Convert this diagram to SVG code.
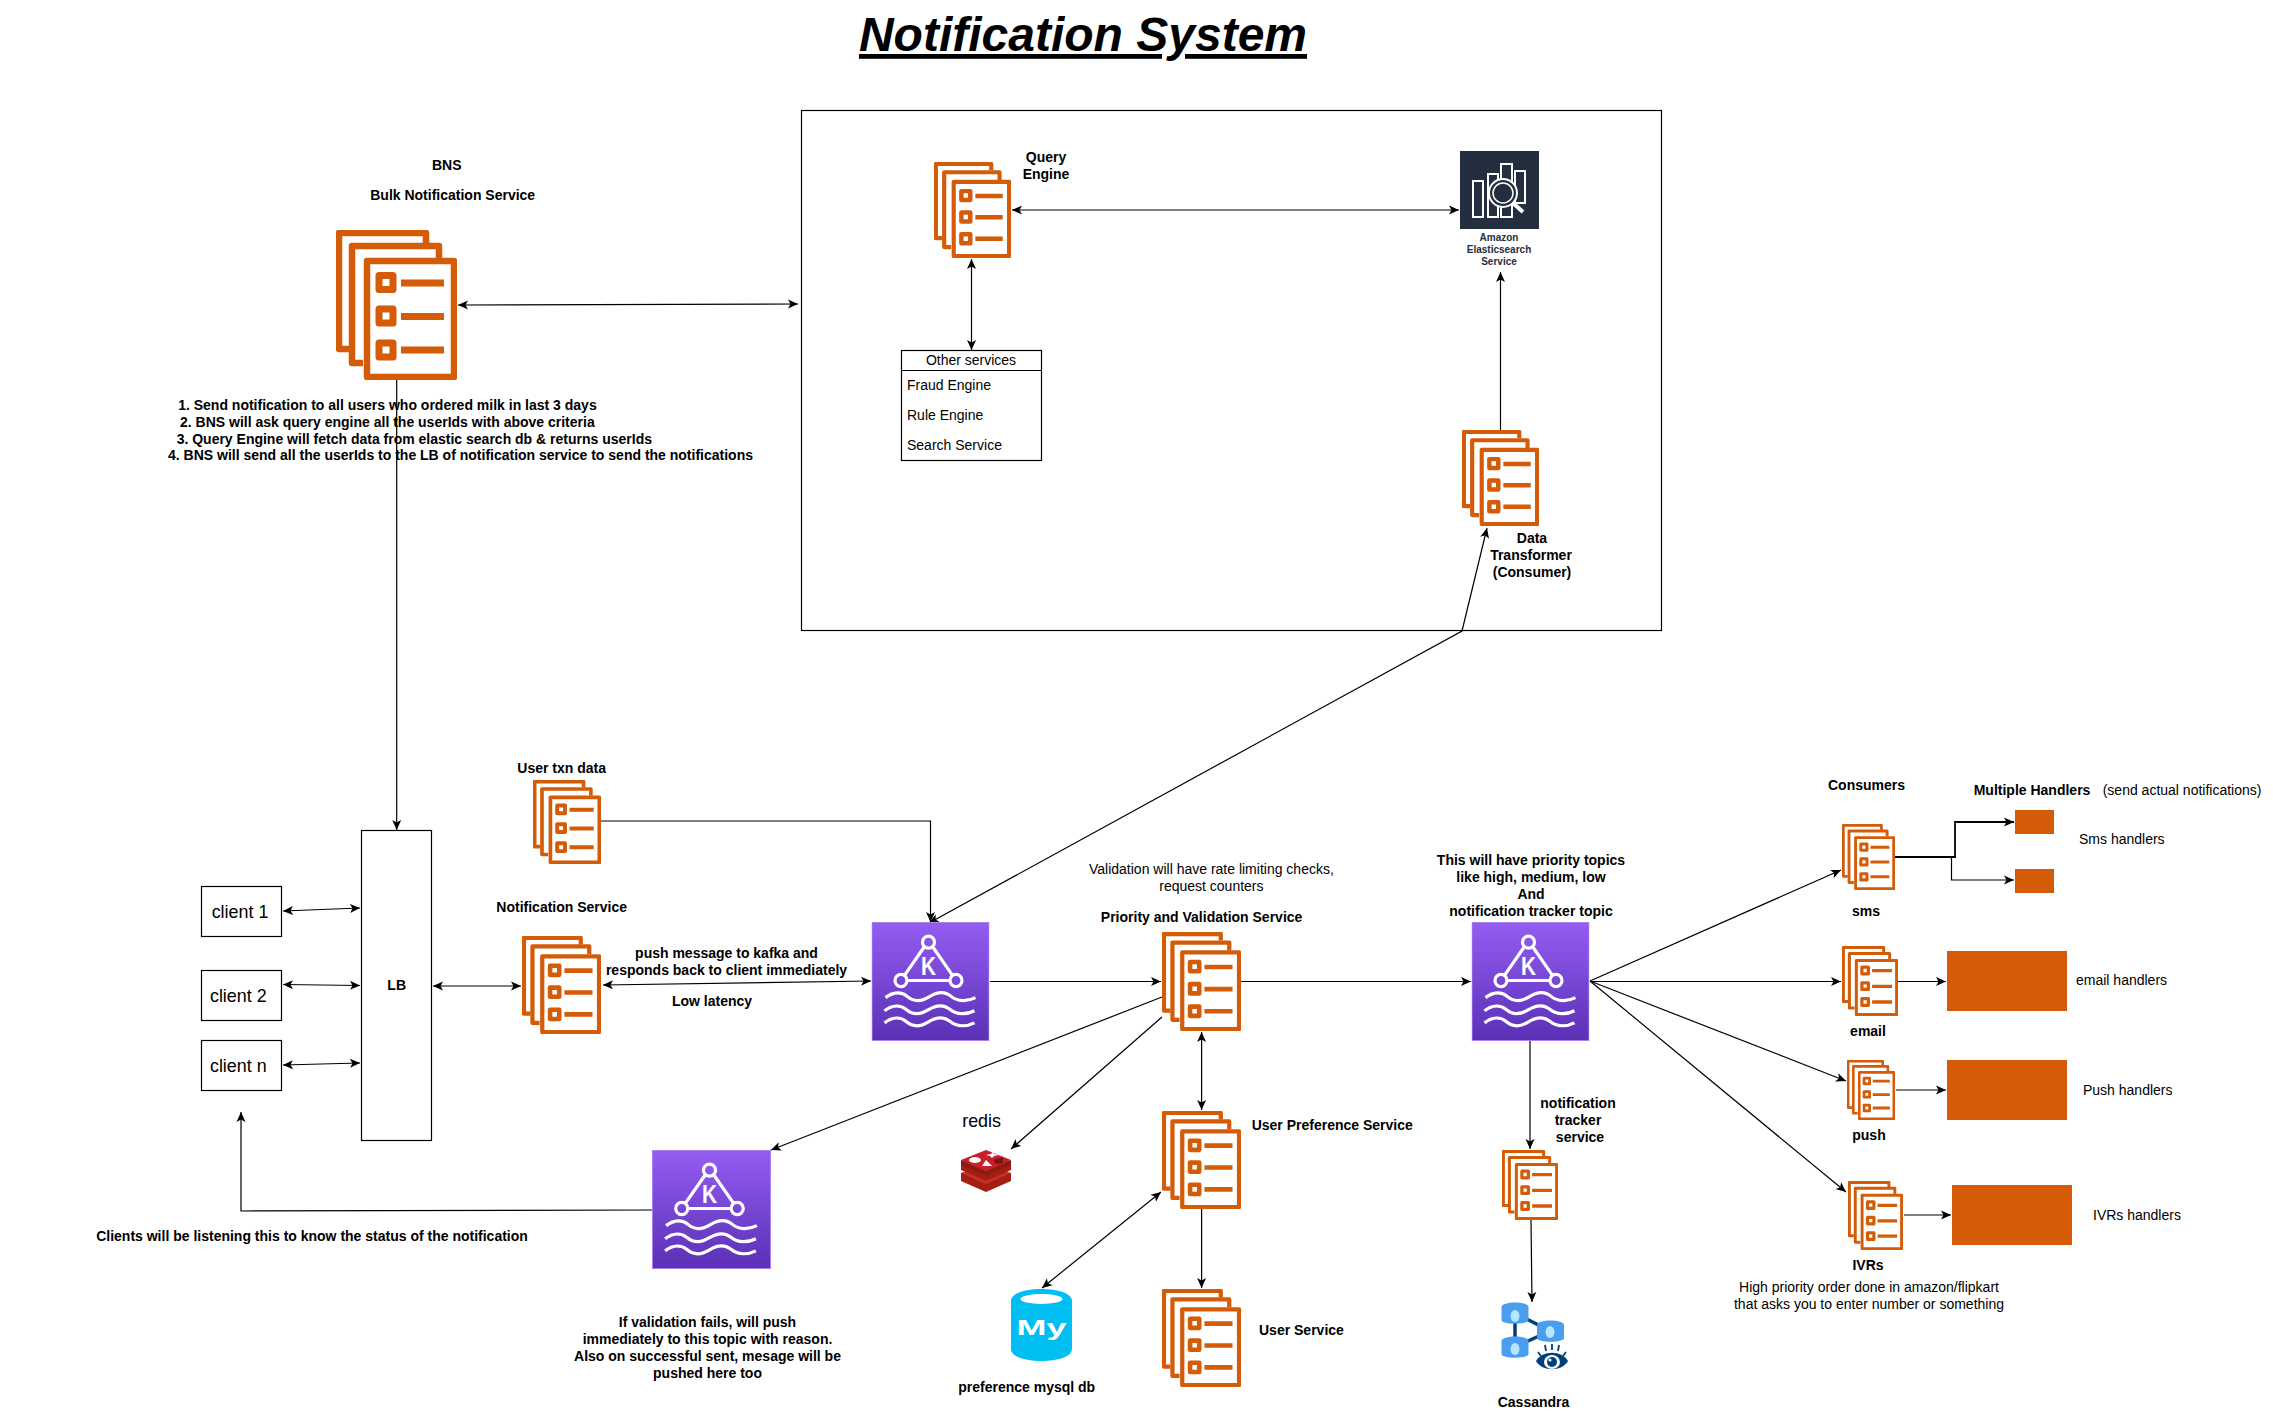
<svg xmlns="http://www.w3.org/2000/svg" width="2273" height="1418" viewBox="0 0 2273 1418">
<style>
text{font-family:"Liberation Sans",Arial,sans-serif;font-size:14px;fill:#000}
.b{font-weight:bold}
.m{text-anchor:middle}
.e{text-anchor:end}
.big{font-size:17.9px}
.box{fill:#fff;stroke:#000;stroke-width:1.2}
.h{fill:#D45B07}
.c{fill:none;stroke:#000;stroke-width:1.2}
.a{marker-end:url(#ah)}
.d{marker-end:url(#ah);marker-start:url(#ah)}
</style>
<defs>
<marker id="ah" viewBox="0 0 10 10" refX="10" refY="5" markerWidth="10" markerHeight="10" markerUnits="userSpaceOnUse" orient="auto-start-reverse"><path d="M10,5 L0,0.5 L2.5,5 L0,9.5 Z" fill="#000"/></marker>
<linearGradient id="kg" x1="0" y1="0" x2="0" y2="1"><stop offset="0" stop-color="#945DF2"/><stop offset="1" stop-color="#5A30B5"/></linearGradient>
<symbol id="svc" viewBox="0 0 121 150" preserveAspectRatio="none">
<g fill="none" stroke="#D45B07" stroke-width="6.5" stroke-linejoin="round">
<path d="M13,119 H3 V3 H90 V13"/>
<path d="M27,133 H16 V16 H103 V28"/>
<rect x="31" y="31" width="87" height="116"/>
<rect x="43" y="45.5" width="14" height="14" stroke-width="7"/>
<rect x="43" y="79" width="14" height="14" stroke-width="7"/>
<rect x="43" y="113" width="14" height="14" stroke-width="7"/>
<path d="M65,53 H108 M65,86.500 H108 M65,120 H108" stroke-width="7"/>
</g>
</symbol>
<symbol id="kafka" viewBox="0 0 118 118" preserveAspectRatio="none">
<rect x="0.500" y="0.500" width="117" height="117" fill="url(#kg)" stroke="#A982F0"/>
<g fill="none" stroke="#fff" stroke-width="3.200">
<path d="M52.500,25 L33,53 M61.500,25 L81,53 M36,58 H78"/>
<circle cx="57" cy="20" r="6"/><circle cx="29.500" cy="58" r="6"/><circle cx="84.500" cy="58" r="6"/>
<path d="M14,75 C22,69 30,69 36,74 C42,79 50,79 58,74 C66,69 74,69 80,74 C86,79 96,79 104,75"/>
<path d="M13,88 C21,82 29,82 35,87 C41,92 49,92 57,87 C65,82 73,82 79,87 C85,92 95,92 103,88"/>
<path d="M13,100 C21,94 29,94 35,99 C41,104 49,104 57,99 C65,94 73,94 79,99 C85,104 95,104 103,100"/>
</g>
<text x="57" y="53" class="m b" style="font-size:25px;fill:#fff" textLength="15" lengthAdjust="spacingAndGlyphs">K</text>
</symbol>
</defs>
<rect width="2273" height="1418" fill="#fff"/>

<g id="title"><text x="1083" y="51" class="m b" style="font-size:48px;font-style:italic;text-decoration:underline">Notification System</text></g>

<g id="boundary"><rect x="801.500" y="110.500" width="860" height="520" class="box"/></g>

<g id="connectors">
<path class="c d" d="M458,305 L798,304"/>
<path class="c d" d="M1012,210 H1459"/>
<path class="c d" d="M971.500,259 V350"/>
<path class="c a" d="M1500.500,431 V272"/>
<path class="c d" d="M929,923 L1462,631 L1487,528"/>
<path class="c a" d="M396.700,380 V830"/>
<path class="c d" d="M283,911 L360,908"/>
<path class="c d" d="M283,984.500 L360,985.500"/>
<path class="c d" d="M283,1065 L360,1063"/>
<path class="c d" d="M433,986 H521"/>
<path class="c a" d="M601,821 H930.500 V922"/>
<path class="c d" d="M603,985 L871,981"/>
<path class="c a" d="M990,981.500 H1161"/>
<path class="c a" d="M1241,981.500 H1471"/>
<path class="c a" d="M1162,997 L771,1150"/>
<path class="c a" d="M1162,1017 L1011,1149"/>
<path class="c d" d="M1201.600,1032 V1110"/>
<path class="c a" d="M1201.600,1209 V1288"/>
<path class="c d" d="M1161,1192 L1042,1288"/>
<path class="c a" d="M652,1210 L241,1211 V1112"/>
<path class="c a" d="M1590,981 L1841,870"/>
<path class="c a" d="M1590,981.500 H1841"/>
<path class="c a" d="M1590,981 L1846,1081"/>
<path class="c a" d="M1590,981 L1846,1192"/>
<path class="c a" d="M1530,1041 V1149"/>
<path class="c a" d="M1531,1220 L1532,1302"/>
<path class="c a" d="M1895,857 H1955 V822 H2014" style="stroke-width:1.800"/>
<path class="c a" d="M1895,857 H1951.500 V880 H2014"/>
<path class="c a" d="M1898,981.500 H1946"/>
<path class="c a" d="M1896,1090 H1946"/>
<path class="c a" d="M1904,1215 H1951"/>
</g>

<g id="bns"><use href="#svc" x="336" y="230" width="121" height="150"/>
<text x="446.700" y="170" class="m b">BNS</text><text x="452.700" y="200" class="m b">Bulk Notification Service</text></g>
<g id="bns-notes" class="b">
<text x="596.700" y="410" class="e b">1. Send notification to all users who ordered milk in last 3 days</text>
<text x="594.700" y="427" class="e b">2. BNS will ask query engine all the userIds with above criteria</text>
<text x="652" y="444" class="e b">3. Query Engine will fetch data from elastic search db &amp; returns userIds</text>
<text x="753" y="460" class="e b">4. BNS will send all the userIds to the LB of notification service to send the notifications</text>
</g>

<g id="query-engine"><use href="#svc" x="934" y="162" width="77" height="96"/>
<text x="1046" y="162" class="m b">Query</text><text x="1046" y="179" class="m b">Engine</text></g>

<g id="elasticsearch">
<rect x="1460" y="151" width="79" height="78" fill="#232F3E"/>
<g fill="none" stroke="#fff" stroke-width="2" transform="translate(1460,151)">
<rect x="13" y="30" width="10" height="36"/>
<rect x="28" y="23" width="10" height="43"/>
<rect x="41" y="13" width="11" height="53"/>
<path d="M55,20 H65 V52 H55 Z"/>
<circle cx="43" cy="42" r="14" fill="#232F3E"/><circle cx="43" cy="42" r="10" stroke-width="1.500"/>
<path d="M53,52 L63,61" stroke-width="4"/>
</g>
<text x="1499" y="241" class="m b" style="font-size:10px;fill:#232F3E">Amazon</text><text x="1499" y="253" class="m b" style="font-size:10px;fill:#232F3E">Elasticsearch</text><text x="1499" y="264.500" class="m b" style="font-size:10px;fill:#232F3E">Service</text>
</g>

<g id="other-services">
<rect x="901.500" y="350.500" width="140" height="110" class="box"/>
<path d="M901.500,370.500 H1041.500" class="c"/>
<text x="971" y="365" class="m">Other services</text>
<text x="907" y="390">Fraud Engine</text>
<text x="907" y="420">Rule Engine</text>
<text x="907" y="450">Search Service</text>
</g>

<g id="data-transformer"><use href="#svc" x="1462" y="430" width="77" height="96"/>
<text x="1532" y="542.700" class="m b">Data</text><text x="1531" y="559.700" class="m b">Transformer</text><text x="1532" y="576.700" class="m b">(Consumer)</text></g>

<g id="client-1"><rect x="201.500" y="886.500" width="80" height="50" class="box"/><text x="240" y="918" class="m big">client 1</text></g>
<g id="client-2"><rect x="201.500" y="970.500" width="80" height="50" class="box"/><text x="238.300" y="1002" class="m big">client 2</text></g>
<g id="client-n"><rect x="201.500" y="1040.500" width="80" height="50" class="box"/><text x="238.300" y="1072" class="m big">client n</text></g>

<g id="lb"><rect x="361.500" y="830.500" width="70" height="310" class="box"/><text x="396.700" y="990" class="m b">LB</text></g>

<g id="user-txn"><use href="#svc" x="533" y="780" width="68" height="84"/><text x="561.700" y="772.700" class="m b">User txn data</text></g>
<g id="notification-service"><use href="#svc" x="522" y="936" width="79" height="98"/><text x="561.700" y="911.700" class="m b">Notification Service</text></g>

<g id="ns-notes">
<text x="726.500" y="958" class="m b">push message to kafka and</text>
<text x="726.500" y="975" class="m b">responds back to client immediately</text>
<text x="712" y="1005.700" class="m b">Low latency</text>
</g>

<g id="kafka-main"><use href="#kafka" x="871.500" y="922" width="118" height="119"/></g>

<g id="priority-validation"><use href="#svc" x="1162" y="932" width="79" height="99"/>
<text x="1211.400" y="874" class="m">Validation will have rate limiting checks,</text><text x="1211.400" y="891" class="m">request counters</text>
<text x="1201.600" y="921.700" class="m b">Priority and Validation Service</text></g>

<g id="user-preference"><use href="#svc" x="1162" y="1111" width="79" height="98"/><text x="1251.700" y="1130" class="b">User Preference Service</text></g>
<g id="user-service"><use href="#svc" x="1162" y="1289" width="79" height="98"/><text x="1259" y="1335" class="b">User Service</text></g>

<g id="redis">
<text x="981.600" y="1126.700" class="m big">redis</text>
<path d="M961,1173 V1181 L986,1192 L1011,1181 V1173 Z" fill="#A41E11"/>
<path d="M961,1173 L986,1163 L1011,1173 L986,1184 Z" fill="#C6302B"/>
<path d="M961,1162 V1170 L986,1181 L1011,1170 V1162 Z" fill="#A41E11"/>
<path d="M961,1162 L986,1152 L1011,1162 L986,1173 Z" fill="#C6302B"/>
<path d="M961,1160 V1165 L986,1176 L1011,1165 V1160 L986,1171 Z" fill="#8E1A10"/>
<path d="M961,1160 L986,1150 L1011,1160 L986,1171 Z" fill="#C6202B"/>
<ellipse cx="975" cy="1160" rx="6" ry="3" fill="#fff"/>
<path d="M982,1166 L986,1160 L992,1166 Z" fill="#fff"/>
<path d="M986,1155 L991,1154 L993,1152 L994,1154 L999,1155 L994,1156 L992,1158 L990,1156 Z" fill="#fff"/>
<path d="M993,1160 L1003,1157 V1163 L996,1164 Z" fill="#7A1610"/>
</g>

<g id="mysql">
<path d="M1011,1301 C1011,1293 1026,1289 1041.500,1289 C1057,1289 1072,1293 1072,1301 V1349 C1072,1357 1057,1361 1041.500,1361 C1026,1361 1011,1357 1011,1349 Z" fill="#00BEF2"/>
<ellipse cx="1041.500" cy="1299" rx="21" ry="5" fill="#fff"/>
<text x="1041.500" y="1335" class="m b" style="font-size:22px;fill:#fff" textLength="50" lengthAdjust="spacingAndGlyphs">My</text>
<text x="1026.700" y="1392" class="m b">preference mysql db</text>
</g>

<g id="kafka-status"><use href="#kafka" x="652" y="1150" width="119" height="119"/>
<text x="312" y="1241" class="m b">Clients will be listening this to know the status of the notification</text>
<text x="707.500" y="1327" class="m b">If validation fails, will push</text>
<text x="707.500" y="1344" class="m b">immediately to this topic with reason.</text>
<text x="707.500" y="1361" class="m b">Also on successful sent, mesage will be</text>
<text x="707.500" y="1378" class="m b">pushed here too</text>
</g>

<g id="kafka-priority"><use href="#kafka" x="1471.500" y="922" width="118" height="119"/>
<text x="1531" y="865" class="m b">This will have priority topics</text>
<text x="1531" y="882" class="m b">like high, medium, low</text>
<text x="1531" y="899" class="m b">And</text>
<text x="1531" y="916" class="m b">notification tracker topic</text>
</g>

<g id="tracker"><use href="#svc" x="1502" y="1150" width="56" height="70"/>
<text x="1578" y="1108" class="m b">notification</text><text x="1578" y="1125" class="m b">tracker</text><text x="1580" y="1142" class="m b">service</text></g>

<g id="cassandra">
<path d="M1515,1313 L1550,1331 L1515,1347 Z" fill="none" stroke="#003F7A" stroke-width="3.500"/>
<g fill="#4A9EF0">
<path d="M1501.500,1307 C1501.500,1301 1528.500,1301 1528.500,1307 V1320 C1528.500,1325 1501.500,1325 1501.500,1320 Z"/>
<path d="M1537,1325 C1537,1319 1564,1319 1564,1325 V1338 C1564,1343 1537,1343 1537,1338 Z"/>
<path d="M1501.500,1341 C1501.500,1335 1528.500,1335 1528.500,1341 V1354 C1528.500,1359 1501.500,1359 1501.500,1354 Z"/>
</g>
<ellipse cx="1515" cy="1316" rx="4.500" ry="6" fill="#B5E5FF"/>
<ellipse cx="1550" cy="1332" rx="4.500" ry="6" fill="#B5E5FF"/>
<ellipse cx="1515" cy="1349" rx="4.500" ry="6" fill="#B5E5FF"/>
<path d="M1536,1361 C1542,1350 1562,1350 1568,1361 C1562,1372 1542,1372 1536,1361 Z" fill="#003F7A"/>
<ellipse cx="1552" cy="1362" rx="8" ry="7" fill="#fff"/><circle cx="1552" cy="1362" r="5" fill="#003F7A"/><circle cx="1550" cy="1360" r="1.500" fill="#fff"/>
<path d="M1538,1352 L1541,1356 M1545,1345 L1546,1351 M1552,1344 V1350 M1559,1345 L1558,1351 M1566,1352 L1563,1356" stroke="#003F7A" stroke-width="1.800" fill="none"/>
<text x="1533.500" y="1407" class="m b">Cassandra</text>
</g>

<g id="consumer-sms"><use href="#svc" x="1842" y="824" width="53" height="66"/><text x="1866.500" y="790" class="m b">Consumers</text><text x="1866" y="916" class="m b">sms</text></g>
<g id="consumer-email"><use href="#svc" x="1842" y="946" width="56" height="70"/><text x="1868" y="1035.700" class="m b">email</text></g>
<g id="consumer-push"><use href="#svc" x="1847" y="1060" width="48" height="60"/><text x="1869" y="1140" class="m b">push</text></g>
<g id="consumer-ivrs"><use href="#svc" x="1848" y="1181" width="55" height="69"/><text x="1868" y="1270" class="m b">IVRs</text>
<text x="1869" y="1292" class="m">High priority order done in amazon/flipkart</text><text x="1869" y="1309" class="m">that asks you to enter number or something</text></g>

<g id="handlers-sms">
<rect x="2015" y="810" width="39" height="24" class="h"/><rect x="2015" y="869" width="39" height="24" class="h"/>
<text x="1973.700" y="795" class="b">Multiple Handlers</text><text x="2102.700" y="795">(send actual notifications)</text>
<text x="2079" y="844">Sms handlers</text>
</g>
<g id="handler-email"><rect x="1947" y="951" width="120" height="60" class="h"/><text x="2076" y="985">email handlers</text></g>
<g id="handler-push"><rect x="1947" y="1060" width="120" height="60" class="h"/><text x="2083" y="1095">Push handlers</text></g>
<g id="handler-ivrs"><rect x="1952" y="1185" width="120" height="60" class="h"/><text x="2093" y="1220">IVRs handlers</text></g>
</svg>
